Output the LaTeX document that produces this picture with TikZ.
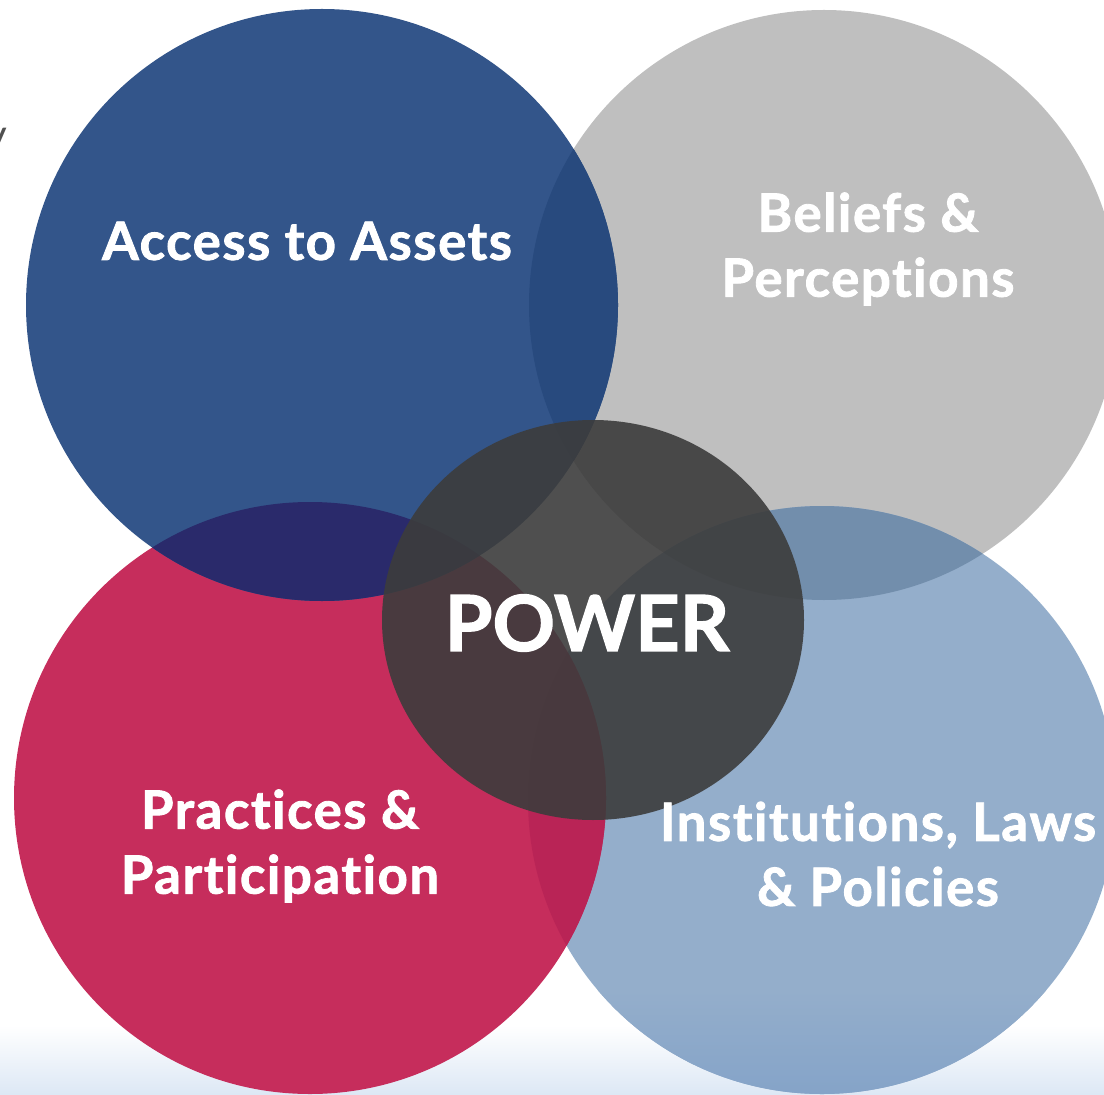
\documentclass[tikz,border=0pt]{standalone}
\usepackage{fontspec}
\setmainfont{Lato}
\newfontfamily\labelfont{Lato}[Ligatures=NoCommon, BoldFeatures={FakeBold=1.6}]
\newfontfamily\widelabelfont{Lato}[Ligatures=NoCommon, LetterSpace=3, BoldFeatures={FakeBold=1.6}]
\usetikzlibrary{positioning}
\definecolor{assetblue}{HTML}{33558A}
\definecolor{beliefgray}{HTML}{BFBFBF}
\definecolor{practicered}{HTML}{C62D5C}
\definecolor{lawblue}{HTML}{94AECB}
\definecolor{lawbluedeep}{HTML}{84A3C8}
\definecolor{assetbelief}{HTML}{284A7E}
\definecolor{assetpractice}{HTML}{2A2A6B}
\definecolor{belieflaw}{HTML}{728EAC}
\definecolor{practicelaw}{HTML}{B92456}
\definecolor{powergray}{HTML}{3C3C3C}
\definecolor{fadeblue}{HTML}{DDE8F5}
\definecolor{stray}{HTML}{505050}
\tikzset{
  circtext/.style={text=white, font=\widelabelfont\bfseries\fontsize{30}{37}\selectfont, align=center, inner sep=0pt},
  powertext/.style={text=white, font=\labelfont\bfseries\fontsize{44}{50}\selectfont, inner sep=0pt}
}
\begin{document}
\begin{tikzpicture}[x=0.02cm,y=-0.02cm]
  \useasboundingbox (0,0) rectangle (1104,1094);

  % fade at the bottom edge
  \shade[top color=white, bottom color=fadeblue] (0,1025) rectangle (1104,1094);

  % centres of the circles
  \coordinate (assets) at (322,305);
  \coordinate (beliefs) at (824,305);
  \coordinate (practices) at (310,798);
  \coordinate (laws) at (822,800);
  \coordinate (power) at (593,620);

  % the four outer circles
  \fill[beliefgray] (beliefs) circle (295);
  \fill[lawblue] (laws) circle (294);
  \begin{scope}
    \clip (laws) circle (294);
    \shade[top color=lawblue, bottom color=lawbluedeep] (520,990) rectangle (1120,1100);
  \end{scope}
  \fill[practicered] (practices) circle (296);
  \fill[assetblue] (assets) circle (296);

  % overlaps
  \begin{scope}
    \clip (assets) circle (296);
    \fill[assetbelief] (beliefs) circle (295);
    \fill[assetpractice] (practices) circle (296);
  \end{scope}
  \begin{scope}
    \clip (laws) circle (294);
    \fill[belieflaw] (beliefs) circle (295);
    \fill[practicelaw] (practices) circle (296);
  \end{scope}

  % power circle on top
  \fill[powergray, opacity=0.9] (power) ellipse (211 and 200);

  % labels
  \node[circtext] (assetslabel) at (307,241) {Access to Assets};
  \node[circtext] (beliefslabel) at (868,249) {Beliefs \&\\Perceptions};
  \node[circtext] (practiceslabel) at (280,846) {Practices \&\\Participation};
  \node[circtext] (lawslabel) at (878,854) {Institutions, Laws\\\& Policies};
  \node[powertext] (powerlabel) at (587,623) {POWER};

  % cut-off letter at the left edge
  \node[text=stray, font=\fontsize{24}{24}\selectfont, anchor=base east, inner sep=0pt] (stray) at (8,150) {y};
\end{tikzpicture}
\end{document}
